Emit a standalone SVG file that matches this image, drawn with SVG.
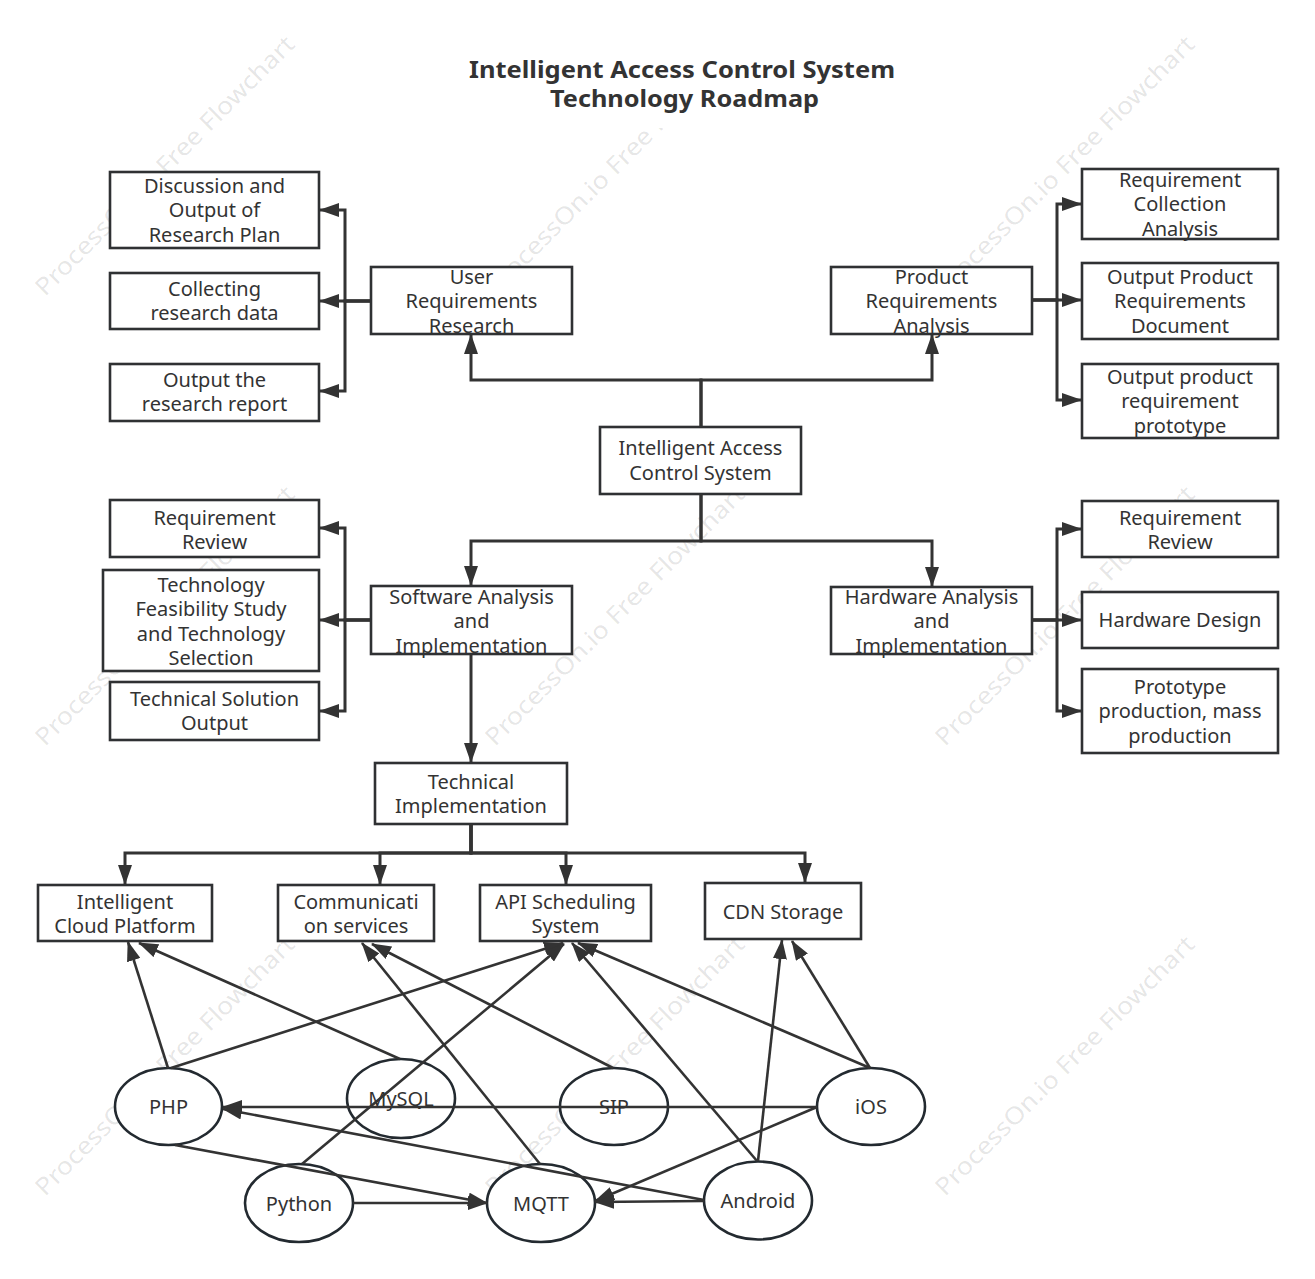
<svg xmlns="http://www.w3.org/2000/svg" width="1315" height="1279" viewBox="0 0 1315 1279">
<style>
.wm{font-family:"Noto Sans",sans-serif;font-size:24px;fill:#000;fill-opacity:0.11}
.box{fill:#fff;stroke:#2f3133;stroke-width:2.6}
.ell{fill:#fff;stroke:#232a30;stroke-width:2.6}
.t{font-family:"Noto Sans","Open Sans",sans-serif;font-size:20px;fill:#333;text-anchor:middle}
.title{font-family:"Noto Sans","Open Sans",sans-serif;font-size:23.5px;font-weight:bold;fill:#333;text-anchor:middle}
.c{fill:none;stroke:#333;stroke-width:3;marker-end:url(#ah)}
.cb{fill:none;stroke:#333;stroke-width:2.6;marker-end:url(#ah)}
</style>
<defs>
<marker id="ah" markerUnits="userSpaceOnUse" markerWidth="20" markerHeight="14" refX="19" refY="7" orient="auto">
<path d="M0,0 L20,7 L0,14 z" fill="#333"/>
</marker>
</defs>
<rect width="1315" height="1279" fill="#fff"/>
<g id="watermark">
<text class="wm" transform="translate(45,297) rotate(-45)" textLength="355" lengthAdjust="spacingAndGlyphs">ProcessOn.io Free Flowchart</text>
<text class="wm" transform="translate(495,297) rotate(-45)" textLength="355" lengthAdjust="spacingAndGlyphs">ProcessOn.io Free Flowchart</text>
<text class="wm" transform="translate(945,297) rotate(-45)" textLength="355" lengthAdjust="spacingAndGlyphs">ProcessOn.io Free Flowchart</text>
<text class="wm" transform="translate(45,747) rotate(-45)" textLength="355" lengthAdjust="spacingAndGlyphs">ProcessOn.io Free Flowchart</text>
<text class="wm" transform="translate(495,747) rotate(-45)" textLength="355" lengthAdjust="spacingAndGlyphs">ProcessOn.io Free Flowchart</text>
<text class="wm" transform="translate(945,747) rotate(-45)" textLength="355" lengthAdjust="spacingAndGlyphs">ProcessOn.io Free Flowchart</text>
<text class="wm" transform="translate(45,1197) rotate(-45)" textLength="355" lengthAdjust="spacingAndGlyphs">ProcessOn.io Free Flowchart</text>
<text class="wm" transform="translate(495,1197) rotate(-45)" textLength="355" lengthAdjust="spacingAndGlyphs">ProcessOn.io Free Flowchart</text>
<text class="wm" transform="translate(945,1197) rotate(-45)" textLength="355" lengthAdjust="spacingAndGlyphs">ProcessOn.io Free Flowchart</text>
</g>
<g id="title">
<rect x="430" y="30" width="505" height="98" fill="#fff"/>
<text class="title" x="682" y="77.5" textLength="426" lengthAdjust="spacingAndGlyphs">Intelligent Access Control System</text>
<text class="title" x="684.5" y="107" textLength="269" lengthAdjust="spacingAndGlyphs">Technology Roadmap</text>
</g>
<g id="nodes">
<g id="n-center"><rect class="box" x="600" y="427" width="201" height="67"/><text class="t" x="700.5" y="455.25">Intelligent Access</text><text class="t" x="700.5" y="479.75">Control System</text></g>
<g id="n-urr"><rect class="box" x="371" y="267" width="201" height="67"/><text class="t" x="471.5" y="283.5">User</text><text class="t" x="471.5" y="308">Requirements</text><text class="t" x="471.5" y="332.5">Research</text></g>
<g id="n-pra"><rect class="box" x="831" y="267" width="201" height="67"/><text class="t" x="931.5" y="283.5">Product</text><text class="t" x="931.5" y="308">Requirements</text><text class="t" x="931.5" y="332.5">Analysis</text></g>
<g id="n-sai"><rect class="box" x="371" y="586" width="201" height="68"/><text class="t" x="471.5" y="603.5">Software Analysis</text><text class="t" x="471.5" y="628">and</text><text class="t" x="471.5" y="652.5">Implementation</text></g>
<g id="n-hai"><rect class="box" x="831" y="587" width="201" height="67"/><text class="t" x="931.5" y="603.5">Hardware Analysis</text><text class="t" x="931.5" y="628">and</text><text class="t" x="931.5" y="652.5">Implementation</text></g>
<g id="n-disc"><rect class="box" x="110" y="172" width="209" height="76"/><text class="t" x="214.5" y="192.5">Discussion and</text><text class="t" x="214.5" y="217">Output of</text><text class="t" x="214.5" y="241.5">Research Plan</text></g>
<g id="n-coll"><rect class="box" x="110" y="273" width="209" height="56"/><text class="t" x="214.5" y="295.5">Collecting</text><text class="t" x="214.5" y="320">research data</text></g>
<g id="n-outrep"><rect class="box" x="110" y="364" width="209" height="57"/><text class="t" x="214.5" y="386.5">Output the</text><text class="t" x="214.5" y="411">research report</text></g>
<g id="n-rca"><rect class="box" x="1082" y="169" width="196" height="70"/><text class="t" x="1180" y="186.5">Requirement</text><text class="t" x="1180" y="211">Collection</text><text class="t" x="1180" y="235.5">Analysis</text></g>
<g id="n-oprd"><rect class="box" x="1082" y="263" width="196" height="76"/><text class="t" x="1180" y="283.5">Output Product</text><text class="t" x="1180" y="308">Requirements</text><text class="t" x="1180" y="332.5">Document</text></g>
<g id="n-oprp"><rect class="box" x="1082" y="364" width="196" height="74"/><text class="t" x="1180" y="383.5">Output product</text><text class="t" x="1180" y="408">requirement</text><text class="t" x="1180" y="432.5">prototype</text></g>
<g id="n-srr"><rect class="box" x="110" y="500" width="209" height="57"/><text class="t" x="214.5" y="524.5">Requirement</text><text class="t" x="214.5" y="549">Review</text></g>
<g id="n-tfs"><rect class="box" x="103" y="570" width="216" height="101"/><text class="t" x="211" y="591.5">Technology</text><text class="t" x="211" y="616">Feasibility Study</text><text class="t" x="211" y="640.5">and Technology</text><text class="t" x="211" y="665">Selection</text></g>
<g id="n-tso"><rect class="box" x="110" y="682" width="209" height="58"/><text class="t" x="214.5" y="705.5">Technical Solution</text><text class="t" x="214.5" y="730">Output</text></g>
<g id="n-hrr"><rect class="box" x="1082" y="501" width="196" height="56"/><text class="t" x="1180" y="524.5">Requirement</text><text class="t" x="1180" y="549">Review</text></g>
<g id="n-hd"><rect class="box" x="1082" y="592" width="196" height="56"/><text class="t" x="1180" y="627">Hardware Design</text></g>
<g id="n-proto"><rect class="box" x="1082" y="669" width="196" height="84"/><text class="t" x="1180" y="693.5">Prototype</text><text class="t" x="1180" y="718">production, mass</text><text class="t" x="1180" y="742.5">production</text></g>
<g id="n-ti"><rect class="box" x="375" y="763" width="192" height="61"/><text class="t" x="471" y="788.5">Technical</text><text class="t" x="471" y="813">Implementation</text></g>
<g id="n-icp"><rect class="box" x="38" y="885" width="174" height="56"/><text class="t" x="125" y="908.5">Intelligent</text><text class="t" x="125" y="933">Cloud Platform</text></g>
<g id="n-comm"><rect class="box" x="278" y="885" width="156" height="56"/><text class="t" x="356" y="908.5">Communicati</text><text class="t" x="356" y="933">on services</text></g>
<g id="n-api"><rect class="box" x="480" y="885" width="171" height="56"/><text class="t" x="565.5" y="908.5">API Scheduling</text><text class="t" x="565.5" y="933">System</text></g>
<g id="n-cdn"><rect class="box" x="705" y="883" width="156" height="56"/><text class="t" x="783" y="919">CDN Storage</text></g>
<g id="n-php"><ellipse class="ell" cx="168.5" cy="1106.5" rx="53.5" ry="38.5"/><text class="t" x="168.5" y="1114">PHP</text></g>
<g id="n-mysql"><ellipse class="ell" cx="401" cy="1098.5" rx="54" ry="39.5"/><text class="t" x="401" y="1106">MySQL</text></g>
<g id="n-sip"><ellipse class="ell" cx="614" cy="1106.5" rx="54" ry="38.5"/><text class="t" x="614" y="1114">SIP</text></g>
<g id="n-ios"><ellipse class="ell" cx="871" cy="1106.5" rx="54" ry="38.5"/><text class="t" x="871" y="1114">iOS</text></g>
<g id="n-python"><ellipse class="ell" cx="299" cy="1203" rx="54" ry="39"/><text class="t" x="299" y="1210.5">Python</text></g>
<g id="n-mqtt"><ellipse class="ell" cx="541" cy="1203" rx="54" ry="39"/><text class="t" x="541" y="1210.5">MQTT</text></g>
<g id="n-android"><ellipse class="ell" cx="758" cy="1200.5" rx="54" ry="39"/><text class="t" x="758" y="1208">Android</text></g>
</g>
<g id="connectors">
<path class="c" d="M701,427 V380 H471 V335"/>
<path class="c" d="M701,427 V380 H932 V335"/>
<path class="c" d="M701,494 V541 H471 V585"/>
<path class="c" d="M701,494 V541 H932 V586"/>
<path class="c" d="M370,301 H345 V210 H320"/>
<path class="c" d="M370,301 H320"/>
<path class="c" d="M370,301 H345 V391 H320"/>
<path class="c" d="M1032,300 H1057 V204 H1081"/>
<path class="c" d="M1032,300 H1081"/>
<path class="c" d="M1032,300 H1057 V400 H1081"/>
<path class="c" d="M370,620 H345 V528 H320"/>
<path class="c" d="M370,620 H320"/>
<path class="c" d="M370,620 H345 V711 H320"/>
<path class="c" d="M1032,620 H1057 V529 H1081"/>
<path class="c" d="M1032,620 H1081"/>
<path class="c" d="M1032,620 H1057 V711 H1081"/>
<path class="c" d="M471,654 V762"/>
<path class="c" d="M471,824 V853 H125 V884"/>
<path class="c" d="M471,824 V853 H380 V884"/>
<path class="c" d="M471,824 V853 H566 V884"/>
<path class="c" d="M471,824 V853 H805 V882"/>
<path class="cb" d="M168,1068 L128,942"/>
<path class="cb" d="M400,1059 L139,943"/>
<path class="cb" d="M171,1068 L563,943"/>
<path class="cb" d="M302,1164 L564,944"/>
<path class="cb" d="M540,1164 L362,943"/>
<path class="cb" d="M613,1068 L372,944"/>
<path class="cb" d="M757,1161 L572,943"/>
<path class="cb" d="M870,1068 L578,943"/>
<path class="cb" d="M758,1161 L782,940"/>
<path class="cb" d="M870,1068 L792,941"/>
<path class="cb" d="M817,1107 L223,1107"/>
<path class="cb" d="M817,1107 L595,1201"/>
<path class="cb" d="M704,1201 L595,1202"/>
<path class="cb" d="M704,1200 L223,1109"/>
<path class="cb" d="M175,1145 L487,1203"/>
<path class="cb" d="M353,1203 L487,1203"/>
</g>
</svg>
